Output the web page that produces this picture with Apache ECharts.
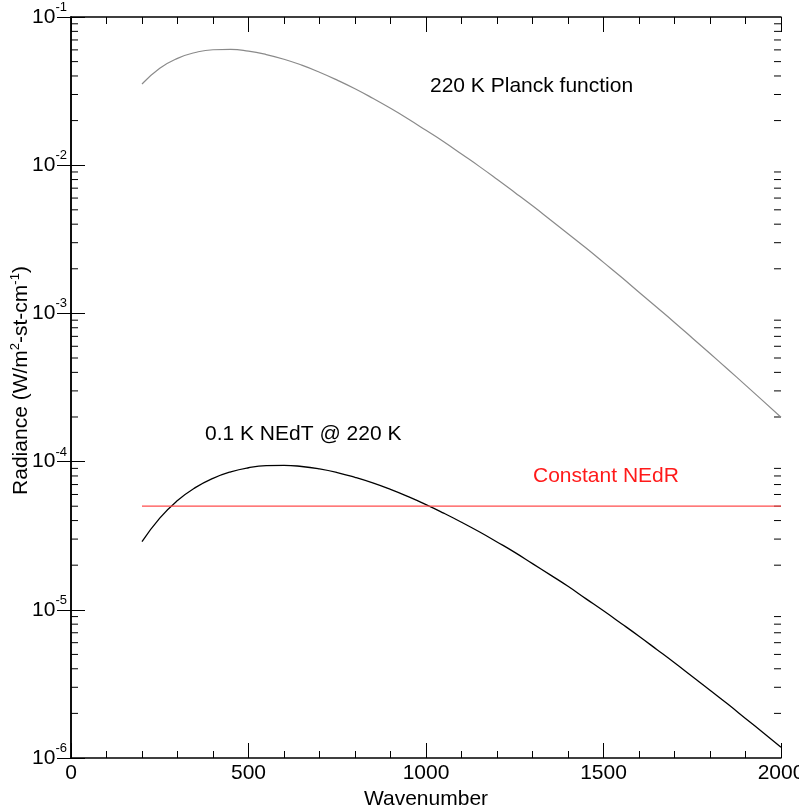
<!DOCTYPE html>
<html>
<head>
<meta charset="utf-8">
<script src="https://cdn.jsdelivr.net/npm/echarts@6/dist/echarts.min.js"></script>
<style>
  html, body { margin: 0; padding: 0; background: #fff; }
  #chart { width: 799px; height: 807px; }
</style>
</head>
<body>
<div id="chart"></div>
<script>
// wavenumber grid (cm-1)
const wavenumber = [200, 250, 300, 350, 400, 450, 500, 550, 600, 650, 700, 750, 800, 850, 900, 950,
  1000, 1050, 1100, 1150, 1200, 1250, 1300, 1350, 1400, 1450, 1500, 1550, 1600, 1650, 1700, 1750,
  1800, 1850, 1900, 1950, 2000]

// 220 K Planck radiance
const planck = [0.0353, 0.0451, 0.0526, 0.0576, 0.0601, 0.0604, 0.0588, 0.0558, 0.0519, 0.0473,
  0.0424, 0.0375, 0.0328, 0.0283, 0.0242, 0.0205, 0.0172, 0.0144, 0.0119, 0.00982, 0.00804,
  0.00655, 0.00532, 0.00429, 0.00345, 0.00277, 0.00221, 0.00176, 0.00139, 0.00110, 8.69e-4,
  6.83e-4, 5.36e-4, 4.20e-4, 3.28e-4, 2.56e-4, 1.99e-4]

// 0.1 K NEdT @ 220 K
const nedt = [2.88e-5, 4.16e-5, 5.46e-5, 6.67e-5, 7.71e-5, 8.53e-5, 9.09e-5, 9.39e-5, 9.44e-5,
  9.27e-5, 8.92e-5, 8.43e-5, 7.83e-5, 7.18e-5, 6.49e-5, 5.80e-5, 5.13e-5, 4.49e-5, 3.90e-5,
  3.36e-5, 2.87e-5, 2.44e-5, 2.05e-5, 1.72e-5, 1.44e-5, 1.19e-5, 9.84e-6, 8.09e-6, 6.63e-6,
  5.40e-6, 4.39e-6, 3.55e-6, 2.87e-6, 2.31e-6, 1.85e-6, 1.48e-6, 1.18e-6]

// constant NEdR
const constWn = [200, 2000]
const constNedr = [5e-5, 5e-5]

const xTicks = [0, 500, 1000, 1500, 2000]
const yTicks = [1e-6, 1e-5, 1e-4, 1e-3, 1e-2, 1e-1]
const yMinor = []
for (let d = -6; d < -1; d++) {
  for (let m = 2; m <= 9; m++) yMinor.push(m * Math.pow(10, d))
}

const chart = echarts.init(document.getElementById('chart'))

const font = 'Liberation Sans, Arial, sans-serif'
const lineStyle = { color: '#000', width: 1.5 }
const xMin = xTicks[0]
const xMax = xTicks[xTicks.length - 1]

function yLabel(v) {
  const e = Math.round(Math.log10(v))
  return '{b|10}{s|' + e + '}'
}

// minor tick items: [edge x, value]
const minorItems = []
yMinor.forEach(v => {
  minorItems.push([xMin, v])
  minorItems.push([xMax, v])
})

const option = {
  backgroundColor: '#fff',
  animation: false,
  grid: { left: 71, top: 17, right: 18, bottom: 49, outerBoundsMode: 'none', containLabel: false },
  xAxis: [
    {
      type: 'value',
      min: xMin,
      max: xMax,
      interval: 500,
      name: 'Wavenumber',
      nameLocation: 'middle',
      nameGap: 31,
      nameMoveOverlap: false,
      nameTextStyle: { fontFamily: font, fontSize: 21, color: '#000' },
      axisLine: { lineStyle },
      axisTick: { inside: true, length: 15, lineStyle: { color: '#000', width: 1 } },
      minorTick: { show: true, splitNumber: 5, length: 7, lineStyle: { color: '#000', width: 1 } },
      axisLabel: { fontFamily: font, fontSize: 21, color: '#000', margin: 5, formatter: v => String(v) },
      splitLine: { show: false }
    },
    {
      type: 'value',
      position: 'top',
      min: xMin,
      max: xMax,
      interval: 500,
      axisLine: { lineStyle },
      axisTick: { inside: true, length: 15, lineStyle: { color: '#000', width: 1 } },
      minorTick: { show: true, splitNumber: 5, length: 7, lineStyle: { color: '#000', width: 1 } },
      axisLabel: { show: false },
      splitLine: { show: false }
    }
  ],
  yAxis: [
    {
      type: 'log',
      logBase: 10,
      min: yTicks[0],
      max: yTicks[yTicks.length - 1],
      splitNumber: 5,
      name: '{a|Radiance (W/m}{s|2}{a|-st-cm}{s|-1}{a|)}',
      nameLocation: 'middle',
      nameGap: 38,
      nameMoveOverlap: false,
      nameTextStyle: {
        padding: [0, 0, 0, 14],
        rich: {
          a: { fontFamily: font, fontSize: 21, color: '#000', lineHeight: 24 },
          s: { fontFamily: font, fontSize: 13, color: '#000', verticalAlign: 'top', lineHeight: 24 }
        }
      },
      axisLine: { lineStyle },
      axisTick: { inside: true, length: 14, lineStyle: { color: '#000', width: 1 } },
      axisLabel: {
        margin: 4,
        formatter: yLabel,
        rich: {
          b: { fontFamily: font, fontSize: 21, color: '#000', lineHeight: 32, verticalAlign: 'middle' },
          s: { fontFamily: font, fontSize: 13, color: '#000', lineHeight: 32, verticalAlign: 'top' }
        }
      },
      splitLine: { show: false }
    },
    {
      type: 'log',
      logBase: 10,
      position: 'right',
      min: yTicks[0],
      max: yTicks[yTicks.length - 1],
      splitNumber: 5,
      axisLine: { lineStyle },
      axisTick: { inside: true, length: 14, lineStyle: { color: '#000', width: 1 } },
      axisLabel: { show: false },
      splitLine: { show: false }
    }
  ],
  graphic: [
    { type: 'text', left: 430, top: 76, style: { text: '220 K Planck function', fontFamily: font, fontSize: 21, fill: '#000' } },
    { type: 'text', left: 205, top: 424, style: { text: '0.1 K NEdT @ 220 K', fontFamily: font, fontSize: 21, fill: '#000' } },
    { type: 'text', left: 533, top: 466, style: { text: 'Constant NEdR', fontFamily: font, fontSize: 21, fill: '#ff1a1a' } }
  ],
  series: [
    {
      name: 'planck',
      type: 'line',
      data: wavenumber.map((w, i) => [w, planck[i]]),
      showSymbol: false,
      smooth: true,
      lineStyle: { color: '#8a8a8a', width: 1.2 }
    },
    {
      name: 'nedt',
      type: 'line',
      data: wavenumber.map((w, i) => [w, nedt[i]]),
      showSymbol: false,
      smooth: true,
      lineStyle: { color: '#000', width: 1.3 }
    },
    {
      name: 'nedr',
      type: 'line',
      data: constWn.map((w, i) => [w, constNedr[i]]),
      showSymbol: false,
      lineStyle: { color: '#ff4d4d', width: 1.2 }
    },
    {
      // minor log ticks on left and right edges
      name: 'yminor',
      type: 'custom',
      silent: true,
      clip: false,
      xAxisIndex: 0,
      yAxisIndex: 0,
      data: minorItems,
      renderItem(params, api) {
        const side = api.value(0)
        const p = api.coord([side, api.value(1)])
        const dx = side === xMin ? 7 : -7
        return {
          type: 'line',
          shape: { x1: p[0], y1: p[1], x2: p[0] + dx, y2: p[1] },
          style: { stroke: '#000', lineWidth: 1 }
        }
      }
    }
  ]
}

chart.setOption(option)
</script>
</body>
</html>
